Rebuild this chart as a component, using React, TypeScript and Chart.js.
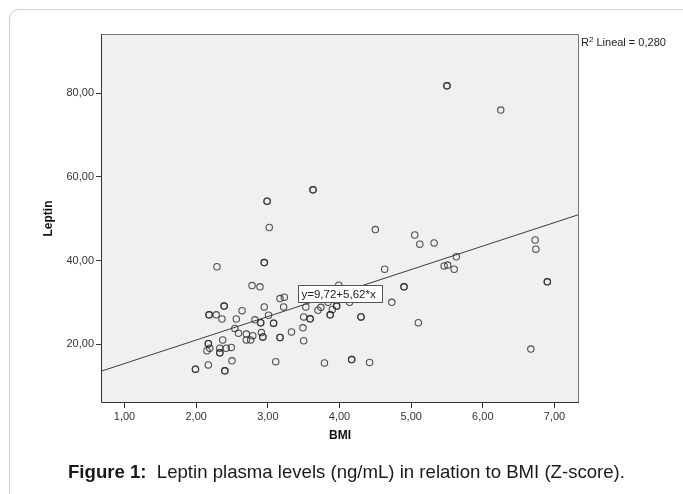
import React, { useEffect, useRef } from "react";
import { Chart, registerables } from "chart.js";

Chart.register(...registerables);

// BMI (Z-score) values of each subject; repeated pairs are overlapping (darker) circles
const bmi = [
  5.5, 5.5, 6.25, 3.63, 3.63, 2.99, 2.99, 3.02, 4.5, 5.05, 5.12, 5.32, 6.73, 6.74, 5.63,
  2.95, 2.95, 2.29, 4.63, 5.46, 5.51, 5.6, 6.9, 6.9, 4.9, 4.9, 2.78, 2.89, 3.99,
  3.17, 3.23, 4.73, 4.14, 3.84, 2.39, 2.39, 2.95, 3.22, 3.53, 3.74, 3.96, 3.96, 3.9, 3.7,
  2.64, 2.18, 2.18, 2.28, 3.01, 3.87, 3.87, 3.5, 4.3, 4.3, 2.36, 2.56, 3.59, 3.59, 2.82,
  2.9, 2.9, 3.08, 3.08, 5.1, 2.54, 3.49, 3.33, 2.59, 2.7, 2.91, 2.79, 2.93, 2.93,
  3.17, 3.17, 2.7, 2.76, 2.37, 3.5, 2.17, 2.17, 2.15, 2.19, 2.33, 2.42, 2.49, 2.33, 2.33,
  6.67, 2.5, 3.11, 3.79, 4.17, 4.17, 4.42, 2.17, 1.99, 1.99, 2.4, 2.4,
];
// Leptin plasma level of each subject (same order)
const leptin = [
  81.8, 81.8, 76.0, 56.9, 56.9, 54.2, 54.2, 47.9, 47.4, 46.1, 43.9, 44.2, 44.9, 42.7, 40.9,
  39.5, 39.5, 38.5, 37.9, 38.7, 38.9, 37.9, 34.9, 34.9, 33.7, 33.7, 34.0, 33.7, 34.1,
  30.9, 31.2, 30.0, 30.0, 30.0, 29.1, 29.1, 28.9, 28.9, 28.9, 28.8, 29.1, 29.1, 28.3, 28.1,
  28.0, 27.0, 27.0, 27.0, 26.9, 27.0, 27.0, 26.5, 26.5, 26.5, 26.0, 26.0, 26.05, 26.05, 25.8,
  25.1, 25.1, 25.0, 25.0, 25.1, 23.75, 23.9, 22.9, 22.6, 22.4, 22.75, 22.0, 21.7, 21.7,
  21.6, 21.6, 21.0, 21.0, 21.0, 20.8, 20.1, 20.1, 18.4, 19.0, 19.0, 19.0, 19.2, 17.9, 17.9,
  18.8, 16.0, 15.8, 15.5, 16.3, 16.3, 15.6, 15.0, 14.0, 14.0, 13.6, 13.6,
];

// fit line end points (read at the plot edges)
const fitLineBmi = [0.672, 7.342];
const fitLineLeptin = [13.5, 51.0];

const xTickValues = [1, 2, 3, 4, 5, 6, 7];
const yTickValues = [20, 40, 60, 80];

const xRange = [0.672, 7.342];
const yRange = [5.9, 94.2];

const equationLabel = "y=9,72+5,62*x";
const equationAnchor = [3.42, 34.1];
const r2Label = "0,280";

const fmt = (v: number) => v.toFixed(2).replace(".", ",");
const FONT = '"Liberation Sans", Arial, sans-serif';

const decorPlugin = {
  id: "decor",
  beforeDatasetsDraw(chart: any) {
    const { ctx, chartArea: a } = chart;
    ctx.save();
    ctx.fillStyle = "#f0f0f0";
    ctx.fillRect(a.left, a.top, a.right - a.left, a.bottom - a.top);
    ctx.restore();
  },
  afterDraw(chart: any) {
    const { ctx, chartArea: a, scales } = chart;
    ctx.save();
    // frame
    ctx.strokeStyle = "#7a7a7a";
    ctx.lineWidth = 1;
    ctx.beginPath();
    ctx.moveTo(a.left, a.top + 0.5);
    ctx.lineTo(a.right - 0.5, a.top + 0.5);
    ctx.lineTo(a.right - 0.5, a.bottom);
    ctx.stroke();
    ctx.strokeStyle = "#333";
    ctx.beginPath();
    ctx.moveTo(a.left + 0.5, a.top);
    ctx.lineTo(a.left + 0.5, a.bottom - 0.5);
    ctx.lineTo(a.right, a.bottom - 0.5);
    ctx.stroke();

    // axis titles
    ctx.fillStyle = "#111";
    ctx.font = "bold 12px " + FONT;
    ctx.textAlign = "center";
    ctx.textBaseline = "middle";
    ctx.fillText("BMI", (a.left + a.right) / 2, 436);
    ctx.save();
    ctx.translate(48.5, (a.top + a.bottom) / 2);
    ctx.rotate(-Math.PI / 2);
    ctx.fillText("Leptin", 0, 0);
    ctx.restore();

    // R2 label
    ctx.textAlign = "left";
    ctx.fillStyle = "#222";
    let x = a.right + 2;
    const y = 43;
    ctx.font = "11px " + FONT;
    ctx.fillText("R", x, y);
    x += ctx.measureText("R").width;
    ctx.font = "8px " + FONT;
    ctx.fillText("2", x, y - 3);
    x += ctx.measureText("2").width;
    ctx.font = "11px " + FONT;
    ctx.fillText(" Lineal = " + r2Label, x, y);

    // equation box
    const bx = Math.round(scales.x.getPixelForValue(equationAnchor[0])) + 0.5;
    const by = Math.round(scales.y.getPixelForValue(equationAnchor[1])) + 0.5;
    ctx.font = "11.5px " + FONT;
    const tw = ctx.measureText(equationLabel).width;
    const bw = Math.max(84, Math.round(tw + 6));
    const bh = 17;
    ctx.fillStyle = "#fff";
    ctx.fillRect(bx, by, bw, bh);
    ctx.strokeStyle = "#555";
    ctx.strokeRect(bx, by, bw, bh);
    ctx.fillStyle = "#222";
    ctx.fillText(equationLabel, bx + 3, by + bh / 2 + 0.5);
    ctx.restore();
  },
};

export default function App() {
  const ref = useRef<HTMLCanvasElement>(null);
  useEffect(() => {
    document.body.style.margin = "0";
    const points = bmi.map((v, i) => ({ x: v, y: leptin[i] }));
    const line = fitLineBmi.map((v, i) => ({ x: v, y: fitLineLeptin[i] }));
    const chart = new Chart(ref.current as HTMLCanvasElement, {
      type: "scatter",
      data: {
        datasets: [
          {
            type: "line",
            data: line,
            borderColor: "#3c3c3c",
            borderWidth: 1,
            pointRadius: 0,
            showLine: true,
            fill: false,
          } as any,
          {
            data: points,
            pointStyle: "circle",
            pointRadius: 3.2,
            pointBorderWidth: 1.1,
            pointBorderColor: "rgba(40,40,40,0.8)",
            pointBackgroundColor: "rgba(0,0,0,0)",
          } as any,
        ],
      },
      options: {
        animation: false,
        responsive: false,
        maintainAspectRatio: false,
        layout: { padding: { left: 0, top: 34, right: 104, bottom: 0 } },
        plugins: { legend: { display: false }, tooltip: { enabled: false } },
        scales: {
          x: {
            type: "linear",
            min: xRange[0],
            max: xRange[1],
            afterBuildTicks: (s: any) => {
              s.ticks = xTickValues.map((v) => ({ value: v }));
            },
            afterFit: (s: any) => {
              s.height = 91;
            },
            ticks: {
              callback: (v: any) => fmt(Number(v)),
              font: { family: FONT, size: 11 },
              color: "#333",
              padding: 2,
              maxRotation: 0,
              autoSkip: false,
            },
            grid: { drawOnChartArea: false, drawTicks: true, tickLength: 5, color: "#333" },
            border: { display: false },
          },
          y: {
            type: "linear",
            min: yRange[0],
            max: yRange[1],
            afterBuildTicks: (s: any) => {
              s.ticks = yTickValues.map((v) => ({ value: v }));
            },
            afterFit: (s: any) => {
              s.width = 101;
            },
            ticks: {
              callback: (v: any) => fmt(Number(v)),
              font: { family: FONT, size: 11 },
              color: "#333",
              padding: 2,
              autoSkip: false,
            },
            grid: { drawOnChartArea: false, drawTicks: true, tickLength: 5, color: "#333" },
            border: { display: false },
          },
        },
      },
      plugins: [decorPlugin],
    });
    return () => chart.destroy();
  }, []);

  return (
    <div style={{ position: "relative", width: 683, height: 494, overflow: "hidden", background: "#fff" }}>
      <div
        style={{
          position: "absolute",
          left: 9,
          top: 9,
          width: 720,
          height: 540,
          border: "1px solid #cfcfcf",
          borderRadius: 10,
          boxSizing: "border-box",
        }}
      />
      <canvas ref={ref} width={683} height={494} style={{ position: "absolute", left: 0, top: 0 }} />
      <div
        style={{
          position: "absolute",
          left: 68,
          top: 460,
          fontFamily: '"Liberation Sans Narrow", "Arial Narrow", "Liberation Sans", Arial, sans-serif',
          fontSize: 18.6,
          lineHeight: "23px",
          color: "#1a1a1a",
          whiteSpace: "nowrap",
        }}
      >
        <b>Figure 1:</b>&nbsp; Leptin plasma levels (ng/mL) in relation to BMI (Z-score).
      </div>
    </div>
  );
}
